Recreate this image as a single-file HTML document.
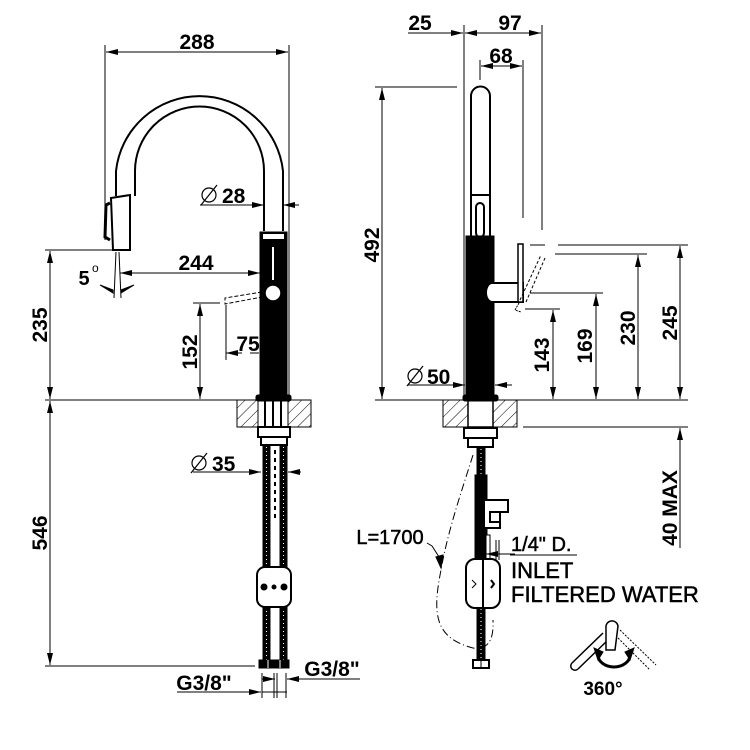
<!DOCTYPE html>
<html><head><meta charset="utf-8"><style>
html,body{margin:0;padding:0;background:#fff}
svg{display:block}
text{font-family:"Liberation Sans",sans-serif;font-weight:bold;fill:#000}
</style></head><body>
<svg width="750" height="750" viewBox="0 0 750 750" xmlns="http://www.w3.org/2000/svg">
<defs>
<marker id="a" viewBox="0 0 12 6" refX="12" refY="3" markerWidth="12" markerHeight="6" markerUnits="userSpaceOnUse" orient="auto-start-reverse"><path d="M0,0 L12,3 L0,6 Z" fill="#000"/></marker>
<pattern id="h" width="8" height="8" patternUnits="userSpaceOnUse" patternTransform="rotate(45)"><line x1="0" y1="0" x2="0" y2="8" stroke="#000" stroke-width="1"/></pattern>
</defs>
<g stroke="#000" stroke-width="1" fill="none">
<line x1="105" y1="45" x2="105" y2="240"/>
<line x1="289" y1="45" x2="289" y2="398"/>
<line x1="106" y1="52" x2="288" y2="52" marker-start="url(#a)" marker-end="url(#a)"/>
<path d="M116,196 L116,171 A84,84 0 0 1 283,171 L283,231" stroke-width="2"/>
<path d="M135,196 L135,171 A64,64 0 0 1 264,171 L264,231" stroke-width="2"/>
<path d="M111,198 L130,195 L130,250 L113,250 Z" stroke-width="2" fill="#fff"/>
<path d="M110,203 L106,205 L105,237 L110,240" stroke-width="3"/>
<line x1="116" y1="252" x2="114" y2="298"/>
<line x1="119" y1="252" x2="121" y2="298"/>
<path d="M100,285 L113,290 L113,293 Z" fill="#000"/>
<path d="M134,285 L121,290 L121,293 Z" fill="#000"/>
<rect x="260" y="232" width="27" height="168" fill="#000"/>
<rect x="263" y="234" width="21" height="5" fill="#fff" stroke="none"/>
<line x1="273" y1="247" x2="273" y2="280" stroke="#fff" stroke-width="2"/>
<circle cx="273" cy="293" r="8" fill="#fff" stroke="#000" stroke-width="1.5"/>
<path d="M262,292 L225,298 L225,304 L262,297" stroke-dasharray="4,2" stroke-width="1"/>
<line x1="200" y1="205" x2="264" y2="205" marker-end="url(#a)"/>
<line x1="299" y1="205" x2="283" y2="205" marker-end="url(#a)"/>
<line x1="120" y1="273" x2="260" y2="273" marker-start="url(#a)" marker-end="url(#a)"/>
<line x1="45" y1="250" x2="112" y2="250"/>
<line x1="50" y1="251" x2="50" y2="399" marker-start="url(#a)" marker-end="url(#a)"/>
<line x1="193" y1="303" x2="220" y2="303"/>
<line x1="200" y1="304" x2="200" y2="399" marker-start="url(#a)" marker-end="url(#a)"/>
<line x1="226" y1="305" x2="226" y2="360"/>
<line x1="226" y1="353" x2="242" y2="353" marker-start="url(#a)"/>
<line x1="250" y1="353" x2="259" y2="353"/>
<line x1="45" y1="400" x2="310" y2="400"/>
<rect x="237" y="400" width="74" height="27" fill="url(#h)" stroke="#000"/>
<rect x="258" y="400" width="30" height="27" fill="#fff"/>
<line x1="265" y1="400" x2="265" y2="427" stroke-width="2"/>
<line x1="273" y1="400" x2="273" y2="427" stroke-width="2"/>
<line x1="281" y1="400" x2="281" y2="427" stroke-width="2"/>
<rect x="256" y="395" width="35" height="6" fill="#000" rx="2"/>
<rect x="258" y="427" width="32" height="10" fill="#fff" stroke-width="2"/>
<rect x="261" y="437" width="26" height="8" fill="#fff" stroke-width="2"/>
<rect x="263" y="445" width="7" height="215" fill="#000"/>
<rect x="280" y="445" width="7" height="215" fill="#000"/>
<line x1="266.5" y1="447" x2="266.5" y2="660" stroke="#fff" stroke-dasharray="1,3"/>
<line x1="283.5" y1="447" x2="283.5" y2="660" stroke="#fff" stroke-dasharray="1,3"/>
<line x1="275" y1="450" x2="275" y2="520" stroke-dasharray="4,4" stroke-width="2"/>
<rect x="257" y="567" width="34" height="40" rx="8" fill="#fff" stroke-width="2"/>
<circle cx="264" cy="587" r="3" fill="#000"/><circle cx="274" cy="587" r="2" fill="#000"/><circle cx="284" cy="587" r="3" fill="#000"/>
<rect x="259" y="660" width="30" height="8" fill="#000"/>
<line x1="268" y1="660" x2="268" y2="668" stroke="#fff"/><line x1="280" y1="660" x2="280" y2="668" stroke="#fff"/>
<line x1="193" y1="472" x2="261" y2="472" marker-end="url(#a)"/>
<line x1="301" y1="472" x2="288" y2="472" marker-end="url(#a)"/>
<line x1="45" y1="666" x2="255" y2="666"/>
<line x1="50" y1="401" x2="50" y2="665" marker-start="url(#a)" marker-end="url(#a)"/>
<line x1="262" y1="673" x2="262" y2="698"/><line x1="274" y1="673" x2="274" y2="698"/><line x1="277" y1="673" x2="277" y2="698"/><line x1="286" y1="673" x2="286" y2="698"/>
<line x1="177" y1="692" x2="261" y2="692" marker-end="url(#a)"/>
<line x1="262" y1="692" x2="287" y2="692"/>
<line x1="360" y1="679" x2="287" y2="679" marker-end="url(#a)"/>
<line x1="262" y1="679" x2="275" y2="679" marker-end="url(#a)"/>

<line x1="464" y1="25" x2="464" y2="400"/>
<line x1="542" y1="25" x2="542" y2="230"/>
<line x1="480" y1="60" x2="480" y2="80"/>
<line x1="523" y1="60" x2="523" y2="218"/>
<line x1="408" y1="33" x2="463" y2="33" marker-end="url(#a)"/>
<line x1="465" y1="33" x2="541" y2="33" marker-start="url(#a)" marker-end="url(#a)"/>
<line x1="481" y1="66" x2="522" y2="66" marker-start="url(#a)" marker-end="url(#a)"/>
<path d="M471,237 L471,96 A9.5,9.5 0 0 1 490,96 L490,237" stroke-width="2" fill="#fff"/>
<line x1="471" y1="195" x2="490" y2="195" stroke-width="2"/>
<rect x="476" y="203" width="8" height="34" rx="4" stroke-width="2"/>
<rect x="466" y="236" width="28" height="164" fill="#000"/>
<path d="M492,283 L523,283 L523,302 L492,302 A6,9.5 0 0 1 492,283 Z" fill="#fff" stroke-width="2"/>
<rect x="518" y="244" width="5" height="58" fill="#fff" stroke-width="1.5"/>
<path d="M520,300 L541,255 M526,302 L545,258" stroke-dasharray="3,2"/>
<path d="M519,303 L515,310 L521,312" stroke-dasharray="2,1"/>
<line x1="375" y1="87" x2="457" y2="87"/>
<line x1="382" y1="88" x2="382" y2="399" marker-start="url(#a)" marker-end="url(#a)"/>
<line x1="530" y1="245" x2="545" y2="245"/><line x1="558" y1="245" x2="688" y2="245"/>
<line x1="555" y1="254" x2="647" y2="254"/>
<line x1="530" y1="293" x2="603" y2="293"/>
<line x1="525" y1="309" x2="560" y2="309"/>
<line x1="553" y1="310" x2="553" y2="399" marker-start="url(#a)" marker-end="url(#a)"/>
<line x1="596" y1="294" x2="596" y2="399" marker-start="url(#a)" marker-end="url(#a)"/>
<line x1="638" y1="255" x2="638" y2="399" marker-start="url(#a)" marker-end="url(#a)"/>
<line x1="680" y1="246" x2="680" y2="399" marker-start="url(#a)" marker-end="url(#a)"/>
<line x1="408" y1="385" x2="465" y2="385" marker-end="url(#a)"/>
<line x1="512" y1="385" x2="495" y2="385" marker-end="url(#a)"/>
<line x1="375" y1="400" x2="688" y2="400"/>
<rect x="443" y="400" width="74" height="27" fill="url(#h)" stroke="#000"/>
<rect x="468" y="400" width="25" height="27" fill="#fff" stroke-width="1.5"/>
<rect x="463" y="395" width="35" height="6" fill="#000" rx="2"/>
<rect x="464" y="428" width="33" height="10" fill="#fff" stroke-width="2"/>
<rect x="468" y="438" width="25" height="9" fill="#fff" stroke-width="2"/>
<line x1="523" y1="427" x2="688" y2="427"/>
<line x1="680" y1="548" x2="680" y2="428" marker-end="url(#a)"/>
<rect x="477" y="447" width="8" height="213" fill="#000"/>
<line x1="481" y1="449" x2="481" y2="660" stroke="#fff" stroke-dasharray="1,3"/>
<rect x="475" y="475" width="12" height="90" fill="#000"/>
<rect x="486" y="535" width="4" height="25" fill="#fff" stroke-width="1"/>
<path d="M485,500 L508,500 L508,512 L500,512 L500,528 L485,528" fill="#fff" stroke-width="2"/>
<rect x="490" y="512" width="10" height="10" fill="#fff" stroke-width="2"/>
<line x1="496" y1="540" x2="496" y2="560"/><line x1="499" y1="540" x2="499" y2="560"/>
<rect x="466" y="559" width="34" height="49" rx="9" fill="#fff" stroke-width="2"/>
<line x1="483" y1="559" x2="483" y2="608" stroke-width="2"/>
<path d="M472,580 L476,584 L472,588"/><path d="M491,580 L494,584 L491,588" stroke-width="2"/>
<rect x="473" y="660" width="16" height="8" fill="#fff" stroke-width="2"/>
<line x1="481" y1="660" x2="481" y2="668"/>
<path d="M473,455 C462,490 448,530 441,570 C432,615 435,638 473,648 C488,650 494,640 493,620" stroke-dasharray="8,3,1,3"/>
<path d="M427,543 L432,546 L441,560" />
<path d="M436,557 L441,568 L443,555 Z" fill="#000"/>
<line x1="510" y1="555" x2="577" y2="555"/>
<line x1="515" y1="554" x2="486" y2="554" marker-end="url(#a)"/>
<path d="M572,663 L603,633 M578,669 L608,640" stroke-width="1.5"/>
<path d="M572,663 A4,4 0 0 0 578,669" stroke-width="1.5"/>
<path d="M606,650 L606,628 A6,6 0 0 1 618,626 L615,650 Z" fill="#fff" stroke-width="1.5"/>
<path d="M620,630 L656,665 M618,638 L650,670" stroke-dasharray="2,1.5"/>
<path d="M598,655 A16,12 0 0 0 630,655" stroke-width="3"/>
<path d="M594,648 L598,660 L603,652 Z M634,648 L630,660 L625,652 Z" fill="#000"/>
</g>
<g font-size="21">
<text x="197" y="49" text-anchor="middle">288</text>
<text x="222" y="203">28</text>
<text x="196" y="270" text-anchor="middle">244</text>
<text x="84" y="285" font-size="20" text-anchor="middle">5</text>
<text x="92" y="272" font-size="12" style="font-weight:normal">o</text>
<text x="248" y="351" text-anchor="middle">75</text>
<text transform="translate(47,325) rotate(-90)" text-anchor="middle">235</text>
<text transform="translate(197,352) rotate(-90)" text-anchor="middle">152</text>
<text transform="translate(47,533) rotate(-90)" text-anchor="middle">546</text>
<text x="212" y="471">35</text>
<text x="204" y="690" text-anchor="middle">G3/8"</text>
<text x="332" y="676" text-anchor="middle">G3/8"</text>
<text x="420" y="30" text-anchor="middle">25</text>
<text x="510" y="30" text-anchor="middle">97</text>
<text x="501" y="63" text-anchor="middle">68</text>
<text transform="translate(379,245) rotate(-90)" text-anchor="middle">492</text>
<text x="427" y="384">50</text>
<text transform="translate(549,355) rotate(-90)" text-anchor="middle">143</text>
<text transform="translate(592,346) rotate(-90)" text-anchor="middle">169</text>
<text transform="translate(635,328) rotate(-90)" text-anchor="middle">230</text>
<text transform="translate(677,323) rotate(-90)" text-anchor="middle">245</text>
<text transform="translate(677,508) rotate(-90)" text-anchor="middle">40 MAX</text>
<text x="390" y="544" text-anchor="middle" font-size="20" style="font-weight:normal;stroke:#000;stroke-width:0.5">L=1700</text>
<text x="511" y="551" font-size="20" style="font-weight:normal;stroke:#000;stroke-width:0.5">1/4" D.</text>
<text x="511" y="578" font-size="22" style="font-weight:normal;stroke:#000;stroke-width:0.5">INLET</text>
<text x="511" y="602" font-size="22" style="font-weight:normal;stroke:#000;stroke-width:0.5">FILTERED WATER</text>
<text x="603" y="695" text-anchor="middle" font-size="19">360°</text>
</g>
<g stroke="#000" fill="none" stroke-width="1.2">
<circle cx="209" cy="195" r="7"/><line x1="201" y1="205" x2="217" y2="185"/>
<circle cx="199" cy="463" r="7"/><line x1="191" y1="473" x2="207" y2="453"/>
<circle cx="415" cy="376" r="7"/><line x1="407" y1="386" x2="423" y2="366"/>
</g>
</svg>
</body></html>
